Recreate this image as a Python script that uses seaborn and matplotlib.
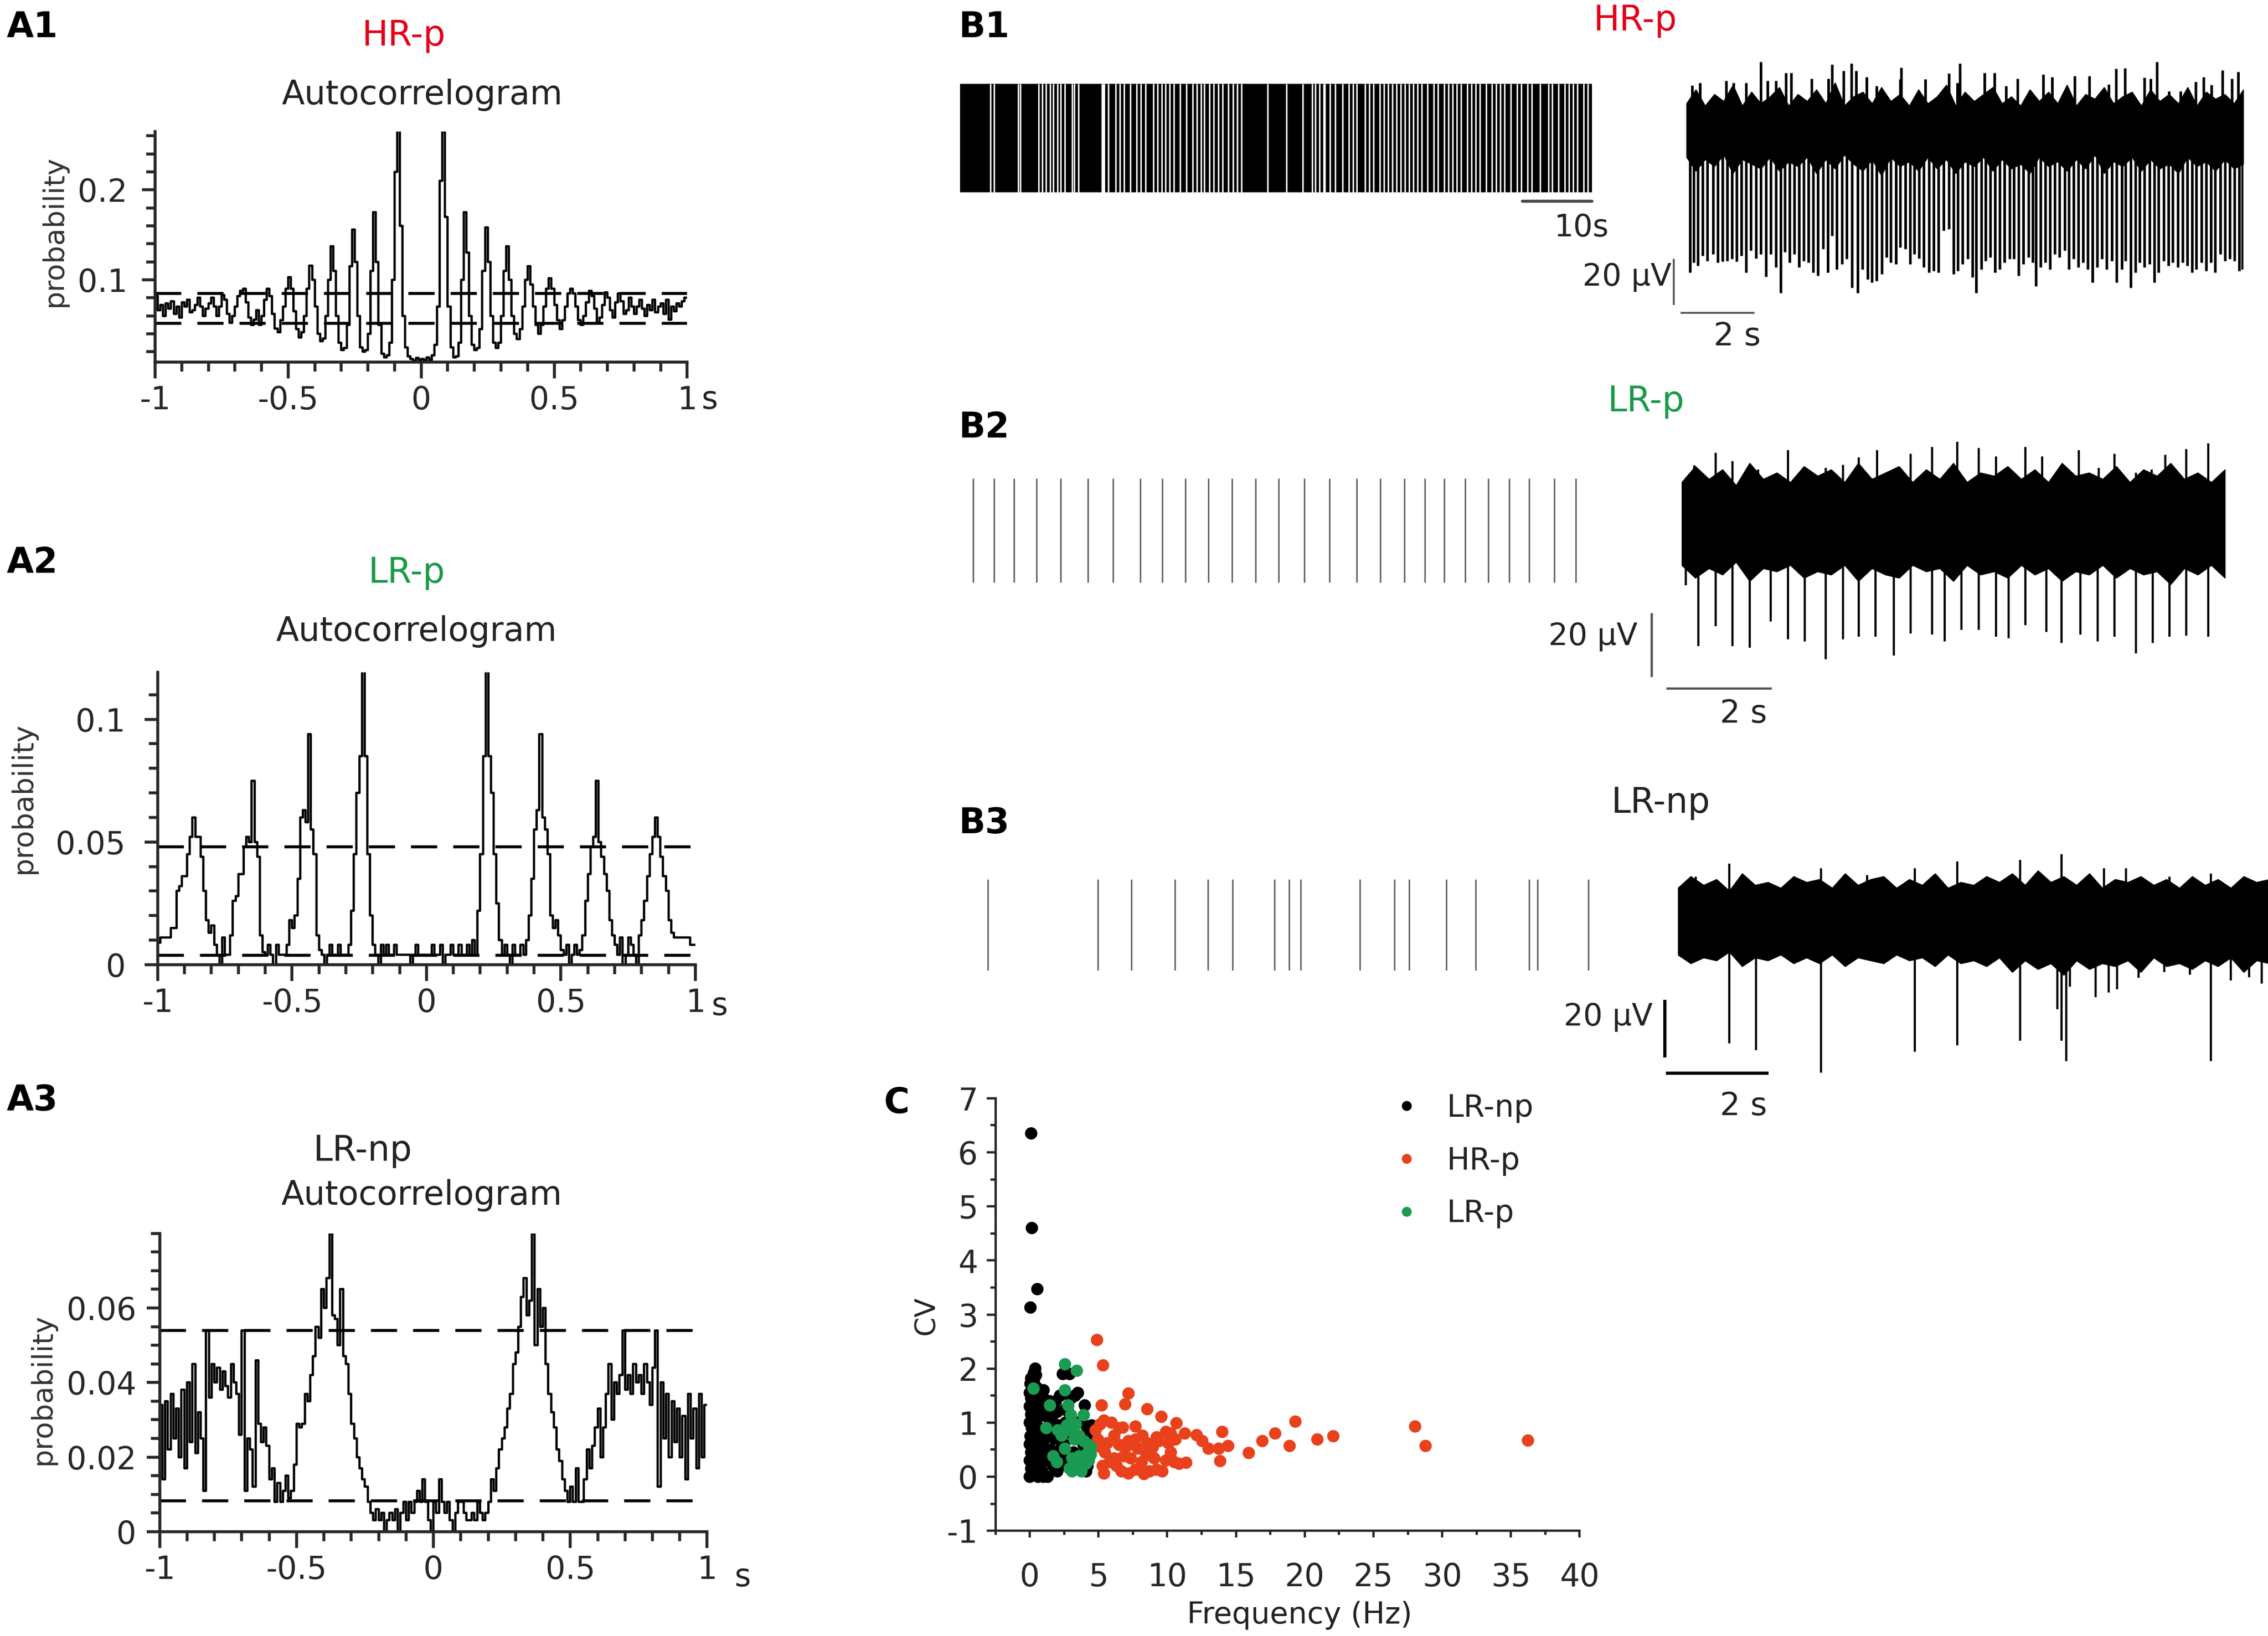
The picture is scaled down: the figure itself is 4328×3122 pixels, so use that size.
import numpy as np
import pandas as pd
import matplotlib
matplotlib.use("Agg")
import matplotlib.pyplot as plt
from matplotlib.ticker import MultipleLocator
import seaborn as sns

sns.set_style("ticks")
plt.rcParams["font.family"] = ["DejaVu Sans"]
plt.rcParams["axes.unicode_minus"] = False
plt.rcParams["text.color"] = "#222222"

RED_TXT = "#e3001b"
GREEN_TXT = "#1a9a48"
RED_DOT = "#e8411c"
GREEN_DOT = "#1b9b51"

# ---------------- autocorrelograms (0.01 s bins) ----------------
BIN = 0.01
lag_labels = ["-1", "-0.5", "0", "0.5", "1"]

# A1 HR-p, negative lags listed from -1 towards 0, positive from 0 towards 1
a1_neg = [0.082, 0.066, 0.072, 0.060, 0.074, 0.068, 0.076, 0.062, 0.070, 0.058,
          0.075, 0.070, 0.078, 0.064, 0.066, 0.072, 0.080, 0.070, 0.060, 0.068,
          0.074, 0.080, 0.070, 0.060, 0.070, 0.083, 0.078, 0.062, 0.052, 0.060,
          0.070, 0.082, 0.088, 0.090, 0.075, 0.058, 0.050, 0.056, 0.066, 0.050,
          0.060, 0.078, 0.090, 0.082, 0.062, 0.046, 0.042, 0.055, 0.070, 0.090,
          0.103, 0.090, 0.065, 0.045, 0.036, 0.042, 0.060, 0.090, 0.116, 0.100,
          0.070, 0.040, 0.032, 0.035, 0.060, 0.100, 0.137, 0.110, 0.060, 0.030,
          0.022, 0.024, 0.050, 0.115, 0.156, 0.120, 0.060, 0.025, 0.020, 0.022,
          0.040, 0.110, 0.175, 0.120, 0.050, 0.018, 0.014, 0.016, 0.030, 0.100,
          0.220, 0.267, 0.160, 0.060, 0.025, 0.015, 0.012, 0.010, 0.013, 0.011]
a1_pos = [0.012, 0.010, 0.014, 0.011, 0.016, 0.028, 0.070, 0.210, 0.265, 0.170,
          0.070, 0.025, 0.014, 0.015, 0.030, 0.100, 0.175, 0.130, 0.060, 0.028,
          0.022, 0.024, 0.045, 0.110, 0.158, 0.120, 0.060, 0.030, 0.024, 0.030,
          0.060, 0.110, 0.137, 0.100, 0.060, 0.040, 0.034, 0.045, 0.070, 0.100,
          0.115, 0.095, 0.070, 0.050, 0.040, 0.050, 0.070, 0.090, 0.102, 0.090,
          0.072, 0.055, 0.045, 0.055, 0.070, 0.085, 0.090, 0.085, 0.070, 0.055,
          0.050, 0.060, 0.075, 0.088, 0.082, 0.068, 0.052, 0.058, 0.072, 0.086,
          0.080, 0.066, 0.058, 0.075, 0.085, 0.076, 0.062, 0.066, 0.080, 0.070,
          0.062, 0.070, 0.078, 0.068, 0.060, 0.072, 0.066, 0.078, 0.064, 0.070,
          0.074, 0.062, 0.078, 0.056, 0.070, 0.065, 0.074, 0.070, 0.076, 0.080]
a1_limits = [0.0514, 0.085]

# A2 LR-p
a2_neg = [0.009, 0.011, 0.011, 0.011, 0.011, 0.015, 0.015, 0.030, 0.032, 0.036,
          0.036, 0.045, 0.052, 0.060, 0.052, 0.052, 0.044, 0.030, 0.018, 0.013,
          0.016, 0.008, 0.004, 0.000, 0.011, 0.004, 0.004, 0.012, 0.026, 0.028,
          0.037, 0.037, 0.048, 0.052, 0.050, 0.075, 0.050, 0.044, 0.012, 0.005,
          0.004, 0.008, 0.004, 0.000, 0.008, 0.004, 0.004, 0.004, 0.008, 0.018,
          0.015, 0.020, 0.035, 0.060, 0.063, 0.058, 0.094, 0.055, 0.045, 0.012,
          0.006, 0.004, 0.000, 0.004, 0.008, 0.004, 0.004, 0.008, 0.004, 0.004,
          0.004, 0.008, 0.022, 0.045, 0.070, 0.085, 0.120, 0.085, 0.045, 0.020,
          0.008, 0.004, 0.000, 0.008, 0.004, 0.008, 0.004, 0.004, 0.008, 0.004,
          0.004, 0.004, 0.004, 0.004, 0.000, 0.004, 0.008, 0.004, 0.004, 0.004]
a2_pos = [0.004, 0.004, 0.008, 0.004, 0.004, 0.008, 0.000, 0.004, 0.004, 0.008,
          0.004, 0.004, 0.008, 0.004, 0.004, 0.008, 0.004, 0.010, 0.004, 0.022,
          0.045, 0.085, 0.120, 0.085, 0.070, 0.045, 0.025, 0.010, 0.004, 0.008,
          0.004, 0.000, 0.008, 0.004, 0.004, 0.008, 0.004, 0.010, 0.020, 0.035,
          0.055, 0.063, 0.094, 0.060, 0.055, 0.045, 0.020, 0.015, 0.018, 0.012,
          0.006, 0.004, 0.008, 0.000, 0.004, 0.008, 0.004, 0.006, 0.012, 0.026,
          0.037, 0.048, 0.052, 0.075, 0.050, 0.044, 0.037, 0.030, 0.018, 0.012,
          0.008, 0.004, 0.011, 0.000, 0.004, 0.011, 0.008, 0.004, 0.000, 0.012,
          0.018, 0.026, 0.036, 0.045, 0.052, 0.060, 0.052, 0.044, 0.036, 0.030,
          0.018, 0.013, 0.011, 0.011, 0.011, 0.011, 0.011, 0.011, 0.008, 0.008]
a2_limits = [0.0037, 0.048]

# A3 LR-np
a3_neg = [0.034, 0.014, 0.035, 0.022, 0.037, 0.025, 0.033, 0.020, 0.038, 0.017,
          0.040, 0.024, 0.045, 0.021, 0.032, 0.025, 0.011, 0.054, 0.036, 0.045,
          0.040, 0.044, 0.038, 0.043, 0.039, 0.036, 0.045, 0.040, 0.037, 0.026,
          0.054, 0.011, 0.025, 0.022, 0.012, 0.046, 0.029, 0.024, 0.028, 0.023,
          0.014, 0.017, 0.008, 0.013, 0.008, 0.011, 0.015, 0.009, 0.011, 0.018,
          0.029, 0.028, 0.029, 0.037, 0.035, 0.042, 0.047, 0.055, 0.052, 0.065,
          0.060, 0.068, 0.080, 0.058, 0.057, 0.050, 0.065, 0.047, 0.045, 0.037,
          0.029, 0.025, 0.020, 0.017, 0.014, 0.012, 0.008, 0.005, 0.003, 0.006,
          0.003, 0.005, 0.000, 0.003, 0.005, 0.003, 0.006, 0.000, 0.005, 0.008,
          0.003, 0.008, 0.005, 0.008, 0.011, 0.008, 0.014, 0.008, 0.003, 0.000]
a3_pos = [0.008, 0.005, 0.014, 0.008, 0.005, 0.008, 0.003, 0.000, 0.005, 0.008,
          0.008, 0.005, 0.003, 0.003, 0.005, 0.003, 0.008, 0.005, 0.003, 0.005,
          0.008, 0.014, 0.011, 0.017, 0.022, 0.025, 0.028, 0.033, 0.037, 0.045,
          0.048, 0.055, 0.063, 0.068, 0.058, 0.062, 0.080, 0.050, 0.065, 0.055,
          0.060, 0.045, 0.037, 0.032, 0.028, 0.022, 0.019, 0.014, 0.011, 0.008,
          0.012, 0.008, 0.017, 0.008, 0.008, 0.014, 0.022, 0.017, 0.023, 0.028,
          0.033, 0.020, 0.028, 0.037, 0.045, 0.030, 0.040, 0.037, 0.042, 0.054,
          0.038, 0.042, 0.037, 0.045, 0.040, 0.042, 0.037, 0.045, 0.040, 0.034,
          0.044, 0.054, 0.012, 0.040, 0.025, 0.037, 0.020, 0.035, 0.024, 0.033,
          0.020, 0.031, 0.014, 0.037, 0.025, 0.033, 0.017, 0.037, 0.020, 0.034]
a3_limits = [0.0083, 0.054]

# ---------------- B rasters (s) ----------------
b_raster_len = 91.0
b1_span = [0.0, 91.0]
b1_gaps = [4.37, 4.91, 8.38, 8.68, 11.38, 11.85, 12.39, 12.99, 13.47, 14.07, 14.55, 15.15,
           16.16, 16.46, 17.06, 20.48, 20.6, 20.77, 21.37, 22.45, 23.05, 23.65, 24.55, 25.44,
           26.04, 26.76, 27.84, 28.44, 29.04, 29.64, 30.23, 30.83, 31.73, 32.63, 33.53,
           34.12, 34.72, 35.2, 35.92, 36.52, 37.24, 37.84, 38.62, 39.33, 39.93, 40.53,
           44.3, 47.0, 49.39, 50.71, 51.19, 51.79, 52.38, 52.5, 53.28, 54.06, 55.08, 55.98,
           56.58, 57.17, 58.37, 58.97, 59.57, 60.47, 61.07, 61.67, 62.26, 62.86, 63.46,
           64.06, 64.66, 65.26, 65.86, 66.46, 67.35, 68.25, 68.85, 69.75, 70.35, 70.94,
           71.54, 72.14, 73.04, 73.64, 74.24, 74.84, 75.74, 76.63, 77.23, 77.83, 78.43,
           79.33, 80.22, 80.82, 81.72, 82.32, 83.52, 84.72, 85.31, 86.21, 87.11, 87.71,
           88.31, 88.91, 89.81, 90.41]
b2_spikes = [1.92, 4.96, 7.79, 11.08, 14.49, 18.41, 22.07, 25.99, 29.15, 32.47, 35.76,
             39.17, 42.61, 45.9, 49.56, 53.23, 57.14, 60.56, 63.99, 66.93, 69.72, 72.78,
             76.07, 79.13, 81.94, 85.61, 88.67]
b3_spikes = [4.06, 19.89, 24.68, 30.93, 35.71, 39.25, 45.29, 47.37, 49.04, 57.58, 62.57,
             64.66, 70.07, 74.24, 81.94, 83.19, 90.48]

# ---------------- B traces (time s, amplitude uV) ----------------
b1_len = 15.1
b1_env_top = [12, 18, 11, 16, 13, 20, 11, 17, 12, 15, 19, 11, 16, 13, 18, 12, 21, 11, 15, 17,
              12, 19, 13, 16, 11, 18, 12, 15, 20, 11, 17, 13, 16, 19, 12, 15, 11, 18, 13, 17,
              12, 20, 11, 16, 14, 19, 12, 15, 17, 11, 18, 13, 16, 12, 19, 11, 17, 14, 16, 12, 18]
b1_env_bot = [-11, -17, -12, -15, -10, -18, -12, -14, -16, -11, -17, -13, -15, -11, -18, -12,
              -16, -10, -14, -17, -12, -19, -11, -15, -13, -17, -11, -16, -12, -18, -13, -15,
              -11, -17, -12, -16, -14, -18, -11, -15, -13, -17, -12, -16, -10, -18, -13, -15,
              -11, -17, -12, -16, -14, -18, -11, -15, -13, -17, -12, -16, -14]
b1_up = [(2.02, 30.1), (3.95, 29.0), (4.47, 29.4), (5.82, 27.6), (7.42, 29.4), (12.76, 30.1),
         (14.53, 26.5), (14.96, 25.8), (11.65, 27.2), (11.89, 27.4), (4.26, 26.1), (4.60, 26.1),
         (2.84, 25.4), (2.69, 25.4), (4.88, 23.6), (7.12, 25.0), (8.08, 25.4), (8.35, 25.4),
         (9.68, 24.7), (9.91, 23.6), (10.52, 23.9), (10.92, 23.9), (12.58, 22.9), (12.42, 23.2),
         (14.02, 23.6), (14.79, 22.9), (0.15, 19.9), (0.36, 21.0), (1.08, 21.8), (1.28, 21.0),
         (1.62, 21.0), (2.20, 21.8), (2.43, 21.8), (3.39, 22.9), (3.85, 22.9), (5.16, 19.6),
         (5.80, 22.5), (6.47, 22.5), (7.34, 21.0), (8.66, 19.6), (8.98, 22.9), (11.45, 20.3),
         (13.09, 17.4), (13.40, 17.4), (13.81, 21.4), (14.24, 20.0)]
b1_down = [(0.10, -60.9), (0.20, -56.6), (0.31, -58.0), (0.44, -53.7), (0.56, -55.9), (0.72, -53.0),
           (0.85, -56.6), (0.97, -56.2), (1.11, -55.9), (1.23, -55.1), (1.36, -56.2), (1.49, -53.7),
           (1.62, -60.9), (1.74, -51.5), (1.88, -54.8), (2.02, -53.0), (2.16, -62.8), (2.28, -53.0),
           (2.43, -58.8), (2.55, -69.7), (2.67, -52.2), (2.80, -56.6), (2.92, -53.0), (3.05, -58.8),
           (3.18, -55.9), (3.31, -56.6), (3.44, -60.9), (3.56, -62.4), (3.70, -50.8), (3.83, -60.9),
           (3.95, -45.0), (4.08, -59.5), (4.21, -57.3), (4.34, -55.1), (4.49, -67.5), (4.64, -69.7),
           (4.77, -59.5), (4.91, -63.9), (5.03, -65.3), (5.15, -64.6), (5.29, -61.7), (5.42, -54.4),
           (5.54, -56.6), (5.68, -57.3), (5.80, -50.1), (5.93, -50.8), (6.06, -57.3), (6.18, -53.0),
           (6.31, -54.8), (6.44, -58.8), (6.57, -60.9), (6.70, -60.2), (6.83, -60.9), (6.98, -42.8),
           (7.12, -42.1), (7.24, -61.7), (7.36, -60.2), (7.49, -57.3), (7.63, -55.1), (7.75, -63.1),
           (7.85, -69.7), (7.99, -59.5), (8.11, -55.9), (8.24, -54.4), (8.37, -60.9), (8.50, -59.5),
           (8.62, -56.6), (8.76, -55.1), (8.88, -55.1), (9.01, -62.4), (9.14, -57.3), (9.27, -54.4),
           (9.39, -56.6), (9.48, -66.8), (9.60, -58.8), (9.73, -56.6), (9.86, -59.5), (9.99, -53.0),
           (10.11, -54.4), (10.25, -51.5), (10.37, -59.5), (10.50, -55.1), (10.63, -58.8),
           (10.75, -56.6), (10.88, -59.5), (11.01, -65.3), (11.14, -58.8), (11.26, -55.1),
           (11.40, -59.5), (11.53, -55.9), (11.67, -65.3), (11.81, -59.5), (11.91, -55.9),
           (12.04, -67.5), (12.17, -60.9), (12.29, -56.6), (12.42, -58.8), (12.56, -57.3),
           (12.68, -65.3), (12.80, -60.9), (12.94, -55.9), (13.07, -58.0), (13.19, -56.6),
           (13.32, -58.8), (13.45, -56.6), (13.58, -58.0), (13.71, -60.9), (13.83, -59.5),
           (13.96, -56.6), (14.09, -60.2), (14.22, -56.6), (14.34, -60.9), (14.48, -53.0),
           (14.60, -55.9), (14.73, -55.1), (14.86, -55.9), (14.99, -60.2), (15.07, -59.5)]

b2_len = 10.29
b2_env_top = [13, 18, 14, 17, 12, 19, 14, 16, 13, 18, 15, 17, 13, 19, 14, 16, 18, 13, 17, 14,
              19, 13, 16, 15, 18, 14, 17, 13, 19, 15, 16, 14, 18, 13, 17, 15, 19, 14, 16, 13, 17]
b2_env_bot = [-13, -17, -14, -16, -12, -18, -14, -15, -13, -17, -15, -16, -13, -18, -14, -16,
              -17, -13, -15, -14, -18, -13, -16, -15, -17, -13, -16, -14, -18, -15, -16, -13,
              -17, -14, -16, -15, -19, -14, -16, -13, -17]
b2_up = [(0.24, 18.3), (0.64, 22.3), (0.96, 19.7), (2.01, 23.1), (2.73, 17.5), (3.06, 18.6),
         (3.35, 20.9), (3.70, 23.1), (4.34, 21.9), (4.74, 24.2), (5.22, 25.7), (5.63, 23.8),
         (5.95, 21.2), (6.51, 24.2), (6.83, 21.2), (7.20, 18.3), (7.52, 23.1), (8.20, 21.9),
         (8.60, 16.0), (9.16, 21.6), (9.56, 23.4), (9.97, 25.3), (1.45, 17.0), (2.40, 16.5),
         (4.05, 17.2), (6.20, 17.0), (7.90, 17.5), (8.90, 17.0)]
b2_down = [(0.08, -19.4), (0.32, -38.6), (0.64, -32.3), (0.96, -38.6), (1.29, -39.0), (1.69, -30.8),
           (2.01, -36.4), (2.33, -37.1), (2.73, -42.7), (3.06, -36.4), (3.35, -35.6), (3.67, -35.6),
           (4.02, -41.5), (4.34, -34.6), (4.74, -34.9), (4.98, -37.1), (5.30, -33.4), (5.63, -33.4),
           (5.95, -35.6), (6.19, -36.0), (6.51, -31.9), (6.91, -34.1), (7.20, -37.5), (7.55, -34.9),
           (7.88, -37.1), (8.20, -35.6), (8.60, -40.8), (8.92, -37.5), (9.24, -35.6), (9.56, -35.3),
           (9.97, -35.6)]

b3_len = 11.55
b3_env_top = [11, 15, 12, 14, 10, 16, 12, 13, 11, 15, 13, 14, 11, 16, 12, 14, 15, 11, 14, 12,
              16, 11, 13, 12, 15, 13, 16, 12, 17, 13, 15, 12, 16, 11, 14, 13, 15, 12, 14, 11,
              15, 12, 14, 11, 15, 13, 14]
b3_env_bot = [-12, -15, -13, -14, -11, -16, -13, -14, -12, -15, -13, -15, -12, -16, -13, -14,
              -15, -12, -14, -13, -16, -12, -15, -14, -16, -13, -18, -14, -17, -15, -19, -14,
              -17, -15, -16, -14, -18, -13, -16, -15, -17, -14, -16, -13, -18, -14, -15]
b3_up = [(1.00, 19.5), (2.80, 17.9), (4.63, 17.9), (5.46, 20.2), (6.68, 20.7), (7.49, 22.8),
         (8.32, 17.9), (8.75, 17.9), (10.41, 16.0), (0.35, 15.0), (3.70, 15.5), (9.60, 15.0)]
b3_down = [(1.00, -42.6), (1.53, -45.1), (2.80, -52.8), (4.63, -45.5), (5.46, -43.5), (6.68, -41.8),
           (7.41, -30.9), (7.49, -41.8), (7.58, -48.8), (7.66, -23.1), (8.16, -26.8), (8.41, -25.2),
           (8.58, -24.0), (10.41, -48.8), (11.16, -19.9), (9.00, -20.0), (9.50, -18.0),
           (10.00, -19.0), (10.80, -21.0), (11.40, -22.0)]

# ---------------- C: frequency (Hz) vs CV ----------------
groups = ["LR-np", "HR-p", "LR-p"]
lrnp_points = [(0.1, 6.35), (0.15, 4.6), (0.55, 3.47), (0.05, 3.13),
               (0.0, 0.0), (0.2, 0.05), (0.4, 0.1), (0.6, 0.0), (0.1, 0.15), (0.5, 0.2),
               (0.0, 0.3), (0.3, 0.35), (0.6, 0.4), (0.1, 0.45), (0.4, 0.5), (0.0, 0.6),
               (0.25, 0.65), (0.55, 0.7), (0.05, 0.75), (0.35, 0.8), (0.6, 0.85), (0.15, 0.9),
               (0.45, 0.95), (0.0, 1.0), (0.3, 1.05), (0.6, 1.1), (0.1, 1.15), (0.4, 1.2),
               (0.0, 1.3), (0.25, 1.35), (0.55, 1.4), (0.1, 1.45), (0.4, 1.5), (0.0, 1.55),
               (0.2, 1.6), (0.5, 1.65), (0.05, 1.72), (0.3, 1.78), (0.1, 1.82), (0.45, 1.88),
               (0.4, 2.0), (0.3, 1.92), (0.2, 0.55), (0.5, 0.45), (0.3, 0.2), (0.15, 1.25),
               (0.5, 1.25), (0.25, 0.95),
               (0.8, 1.25), (1.0, 1.45), (0.75, 0.9), (0.9, 0.6), (1.0, 0.0), (0.9, 0.1),
               (1.2, 0.3), (1.4, 0.9), (1.6, 1.1), (1.8, 0.7), (2.0, 1.2), (2.2, 0.5),
               (2.4, 1.9), (2.6, 1.0), (2.9, 1.9), (3.3, 1.5), (3.5, 1.55), (3.0, 0.8),
               (3.8, 1.0), (4.0, 1.32), (4.2, 0.9), (4.4, 0.8), (3.7, 0.4), (4.1, 0.1),
               (2.7, 0.2), (1.1, 0.7), (1.5, 0.5), (1.3, 1.1), (0.8, 0.25), (1.9, 1.4),
               (2.3, 0.3), (3.2, 0.45), (1.2, 1.3), (1.7, 0.2), (2.1, 0.95), (2.5, 0.6),
               (2.8, 1.2), (3.4, 1.0), (3.6, 0.75), (3.9, 0.6), (4.3, 0.45), (4.5, 0.95),
               (4.6, 0.75), (1.3, 0.0), (0.7, 0.05), (2.9, 0.35), (3.5, 0.15), (4.2, 0.2),
               (1.8, 0.25), (2.6, 1.25), (3.0, 1.45), (2.2, 1.5), (1.0, 1.6), (1.4, 1.4),
               (0.7, 1.55), (1.6, 0.75), (2.0, 0.1), (1.1, 0.45)]
hrp_points = [(4.89, 2.53), (5.33, 2.06), (5.23, 1.32), (7.18, 1.54), (6.94, 1.34), (8.55, 1.25),
              (9.57, 1.11), (10.67, 0.99), (14.0, 0.83), (5.4, 1.04), (5.95, 1.0), (6.77, 0.91),
              (7.69, 0.93), (11.28, 0.8), (12.14, 0.77), (12.55, 0.66), (13.0, 0.52), (13.75, 0.52),
              (14.43, 0.57), (13.85, 0.29), (15.93, 0.44), (16.92, 0.66), (17.85, 0.8), (18.9, 0.57),
              (19.32, 1.02), (20.92, 0.69), (22.08, 0.75), (28.03, 0.93), (28.79, 0.57), (36.24, 0.67),
              (4.79, 0.86), (4.96, 0.69), (5.13, 0.55), (5.47, 0.45), (5.81, 0.27), (5.4, 0.06),
              (6.15, 0.76), (6.5, 0.59), (6.84, 0.38), (6.67, 0.1), (7.18, 0.06), (7.35, 0.34),
              (7.86, 0.52), (8.2, 0.76), (8.48, 0.41), (8.31, 0.05), (8.72, 0.1), (9.23, 0.13),
              (9.06, 0.34), (9.4, 0.66), (9.91, 0.83), (10.09, 0.62), (10.26, 0.45), (10.53, 0.27),
              (10.87, 0.24), (11.38, 0.26), (9.91, 0.3), (9.64, 0.1), (8.55, 0.62), (8.96, 0.55),
              (7.69, 0.13), (6.15, 0.34), (5.64, 0.62), (10.6, 0.69), (7.69, 0.69), (7.01, 0.55),
              (9.23, 0.73), (8.14, 0.27), (5.3, 0.2), (6.32, 0.2), (6.5, 0.9), (7.18, 0.66),
              (8.89, 0.38), (10.26, 0.8), (5.13, 0.97)]
lrp_points = [(2.56, 2.08), (3.42, 1.96), (0.27, 1.63), (2.56, 1.6), (1.47, 1.32), (2.8, 1.32),
              (3.93, 1.14), (3.0, 1.14), (1.2, 0.9), (2.05, 0.86), (2.32, 0.76), (2.9, 0.86),
              (3.35, 0.97), (3.59, 0.76), (3.93, 0.66), (4.27, 0.59), (4.44, 0.41), (1.71, 0.38),
              (1.98, 0.27), (2.56, 0.52), (3.08, 0.34), (3.42, 0.2), (3.08, 0.1), (3.76, 0.1),
              (4.1, 0.24), (3.59, 0.38), (3.25, 0.69), (4.1, 0.41), (2.7, 0.95), (3.2, 0.25),
              (2.9, 0.15), (3.6, 0.25), (4.45, 0.55), (4.3, 0.3)]


def acg_frame(neg, pos):
    vals = np.array(neg + pos)
    left = np.concatenate([-BIN * np.arange(len(neg), 0, -1), BIN * np.arange(len(pos))])
    return pd.DataFrame({"lag": np.append(left, left[-1] + BIN),
                         "prob": np.append(vals, vals[-1])})


def draw_acg(ax, neg, pos, limits, ylim, yticks, ylabels, yminor, ypad):
    df = acg_frame(neg, pos)
    sns.lineplot(data=df, x="lag", y="prob", drawstyle="steps-post", color="black",
                 lw=1.6, estimator=None, sort=False, ax=ax)
    for lim in limits:
        ax.axhline(lim, color="black", lw=2, ls=(0, (9, 5.5)))
    ax.set_xlim(-1, 1)
    ax.set_ylim(*ylim)
    sns.despine(ax=ax)
    ax.spines["bottom"].set_bounds(-1, 1)
    for s in ("left", "bottom"):
        ax.spines[s].set_linewidth(2)
    ax.set_xticks([-1, -0.5, 0, 0.5, 1])
    ax.set_xticklabels(lag_labels)
    ax.xaxis.set_minor_locator(MultipleLocator(0.1))
    ax.set_yticks(yticks)
    ax.set_yticklabels(ylabels)
    ax.yaxis.set_minor_locator(MultipleLocator(yminor))
    ax.tick_params(axis="x", which="major", length=11, width=2, pad=5, labelsize=21.5)
    ax.tick_params(axis="x", which="minor", length=6.5, width=2)
    ax.tick_params(axis="y", which="major", length=9, width=2, pad=ypad, labelsize=21.5)
    ax.tick_params(axis="y", which="minor", length=6, width=2)
    ax.set_xlabel("")
    ax.set_ylabel("")


def draw_trace(ax, t_len, env_top, env_bot, up, down, ylim, spike_lw):
    t_env = np.linspace(0, t_len, len(env_top))
    ax.fill_between(t_env, env_bot, env_top, color="black", lw=0.8, edgecolor="black")
    ut, ua = zip(*up)
    dt, da = zip(*down)
    ax.vlines(ut, 0, ua, color="black", lw=spike_lw)
    ax.vlines(dt, da, 0, color="black", lw=spike_lw)
    ax.set_xlim(0, t_len)
    ax.set_ylim(*ylim)
    ax.axis("off")


def scale_bars(ax, x_v, y_v, y_h, x_h, color, lw):
    ax.plot([x_v, x_v], [y_v, y_v + 20], color=color, lw=lw, clip_on=False, solid_capstyle="butt")
    ax.plot([x_h, x_h + 2], [y_h, y_h], color=color, lw=lw, clip_on=False, solid_capstyle="butt")


fig = plt.figure(figsize=(4328 / 200, 3122 / 200), dpi=200)

# ---- A panels ----
ax_a1 = fig.add_axes([0.0684, 0.7787, 0.2346, 0.1410])
draw_acg(ax_a1, a1_neg, a1_pos, a1_limits, (0.0086, 0.265), [0.1, 0.2], ["0.1", "0.2"], 0.02, 10)
ax_a2 = fig.add_axes([0.0695, 0.4104, 0.2371, 0.1787])
draw_acg(ax_a2, a2_neg, a2_pos, a2_limits, (0, 0.1192), [0, 0.05, 0.1], ["0", "0.05", "0.1"], 0.01, 13)
ax_a3 = fig.add_axes([0.0704, 0.0638, 0.2414, 0.1823])
draw_acg(ax_a3, a3_neg, a3_pos, a3_limits, (0, 0.08), [0, 0.02, 0.04, 0.06],
         ["0", "0.02", "0.04", "0.06"], 0.005, 7)

for (x, y), lab in zip([(0.003, 0.994), (0.003, 0.6667), (0.003, 0.3378)], ["A1", "A2", "A3"]):
    fig.text(x, y, lab, fontsize=24, fontweight="bold", color="black", ha="left", va="top")
fig.text(0.1779, 0.9721, "HR-p", fontsize=24, color=RED_TXT, ha="center", va="baseline")
fig.text(0.1862, 0.9363, "Autocorrelogram", fontsize=23, ha="center", va="baseline")
fig.text(0.1792, 0.6437, "LR-p", fontsize=24, color=GREEN_TXT, ha="center", va="baseline")
fig.text(0.1837, 0.6083, "Autocorrelogram", fontsize=23, ha="center", va="baseline")
fig.text(0.1600, 0.2904, "LR-np", fontsize=24, ha="center", va="baseline")
fig.text(0.1858, 0.2637, "Autocorrelogram", fontsize=23, ha="center", va="baseline")
for x, y in [(0.0238, 0.8586), (0.0103, 0.512), (0.0188, 0.1508)]:
    fig.text(x, y, "probability", fontsize=19.5, color="#333333", rotation=90, ha="center", va="center")
for x, y in [(0.3129, 0.7556), (0.3173, 0.3847), (0.3275, 0.0357)]:
    fig.text(x, y, "s", fontsize=21.5, ha="center", va="center")

# ---- B rasters ----
ax_b1r = fig.add_axes([0.4232, 0.8824, 0.2787, 0.0663])
ax_b1r.axvspan(b1_span[0], b1_span[1], color="black", lw=0)
sns.rugplot(x=b1_gaps, height=1, color="white", lw=0.45, expand_margins=False, ax=ax_b1r)
ax_b1r.plot([81, 91], [-0.08, -0.08], color="#444444", lw=2, clip_on=False,
            transform=ax_b1r.get_xaxis_transform())
ax_b2r = fig.add_axes([0.4232, 0.6437, 0.2787, 0.0637])
sns.rugplot(x=b2_spikes, height=1, color="#5e5e6c", lw=1.0, expand_margins=False, ax=ax_b2r)
ax_b3r = fig.add_axes([0.4232, 0.4067, 0.2787, 0.0557])
sns.rugplot(x=b3_spikes, height=1, color="#5e5e6c", lw=1.0, expand_margins=False, ax=ax_b3r)
for ax in (ax_b1r, ax_b2r, ax_b3r):
    ax.set_xlim(0, b_raster_len)
    ax.set_ylim(0, 1)
    ax.axis("off")

# ---- B traces ----
ax_b1t = fig.add_axes([0.7436, 0.8099, 0.2455, 0.1547])
draw_trace(ax_b1t, b1_len, b1_env_top, b1_env_bot, b1_up, b1_down, (-77.6, 31.75), 1.8)
scale_bars(ax_b1t, -0.35, -75.1, -78.3, -0.16, "#555555", 1.3)
ax_b2t = fig.add_axes([0.7415, 0.5915, 0.2395, 0.1432])
draw_trace(ax_b2t, b2_len, b2_env_top, b2_env_bot, b2_up, b2_down, (-45.5, 28.2), 1.5)
scale_bars(ax_b2t, -0.57, -48.2, -51.8, -0.29, "#555555", 1.6)
ax_b3t = fig.add_axes([0.7398, 0.3413, 0.2608, 0.1370])
draw_trace(ax_b3t, b3_len, b3_env_top, b3_env_bot, b3_up, b3_down, (-54.55, 22.95), 1.5)
scale_bars(ax_b3t, -0.255, -47.6, -53.05, -0.23, "black", 2.2)

for (x, y), lab in zip([(0.4228, 0.994), (0.4228, 0.7492), (0.4228, 0.5075)], ["B1", "B2", "B3"]):
    fig.text(x, y, lab, fontsize=24, fontweight="bold", color="black", ha="left", va="top")
fig.text(0.7209, 0.9814, "HR-p", fontsize=24, color=RED_TXT, ha="center", va="baseline")
fig.text(0.7258, 0.7485, "LR-p", fontsize=24, color=GREEN_TXT, ha="center", va="baseline")
fig.text(0.7323, 0.5031, "LR-np", fontsize=24, ha="center", va="baseline")
fig.text(0.6974, 0.8556, "10s", fontsize=21, ha="center", va="baseline")
fig.text(0.7371, 0.8255, "20 \u00b5V", fontsize=21, ha="right", va="baseline")
fig.text(0.7660, 0.7889, "2 s", fontsize=22, ha="center", va="baseline")
fig.text(0.7221, 0.6057, "20 \u00b5V", fontsize=21, ha="right", va="baseline")
fig.text(0.7686, 0.5583, "2 s", fontsize=22, ha="center", va="baseline")
fig.text(0.7286, 0.3731, "20 \u00b5V", fontsize=21, ha="right", va="baseline")
fig.text(0.7686, 0.3185, "2 s", fontsize=22, ha="center", va="baseline")

# ---- C scatter ----
frames = []
for name, pts in zip(groups, [lrnp_points, hrp_points, lrp_points]):
    f, cv = zip(*pts)
    frames.append(pd.DataFrame({"freq": f, "cv": cv, "group": name}))
df_c = pd.concat(frames, ignore_index=True)

ax_c = fig.add_axes([0.4389, 0.0643, 0.2576, 0.2644])
sns.scatterplot(data=df_c, x="freq", y="cv", hue="group", hue_order=groups,
                palette={"LR-np": "black", "HR-p": RED_DOT, "LR-p": GREEN_DOT},
                s=72, linewidth=0, edgecolor="none", ax=ax_c)
ax_c.set_xlim(-2.5, 40)
ax_c.set_ylim(-1, 7)
sns.despine(ax=ax_c)
for s in ("left", "bottom"):
    ax_c.spines[s].set_linewidth(1.6)
ax_c.set_xticks(range(0, 41, 5))
ax_c.xaxis.set_minor_locator(MultipleLocator(2.5))
ax_c.set_yticks(range(-1, 8))
ax_c.yaxis.set_minor_locator(MultipleLocator(0.5))
ax_c.tick_params(axis="x", which="major", length=4.5, width=1.6, pad=17, labelsize=21.5)
ax_c.tick_params(axis="x", which="minor", length=3, width=1.6)
ax_c.tick_params(axis="y", which="major", length=6, width=1.6, pad=6, labelsize=21.5)
ax_c.tick_params(axis="y", which="minor", length=3.5, width=1.6)
ax_c.set_xlabel("")
ax_c.set_ylabel("")
sns.move_legend(ax_c, "upper left", bbox_to_anchor=(0.683, 1.012), frameon=False, title="",
                fontsize=21, markerscale=0.8, labelspacing=0.75, handletextpad=0.9,
                handlelength=0.8, borderpad=0, borderaxespad=0)
fig.text(0.5731, 0.0076, "Frequency (Hz)", fontsize=20.5, ha="center", va="baseline")
fig.text(0.4082, 0.196, "CV", fontsize=19, rotation=90, ha="center", va="center")
fig.text(0.3896, 0.3364, "C", fontsize=24, fontweight="bold", color="black", ha="left", va="top")

fig.savefig("out.png", dpi=200)
